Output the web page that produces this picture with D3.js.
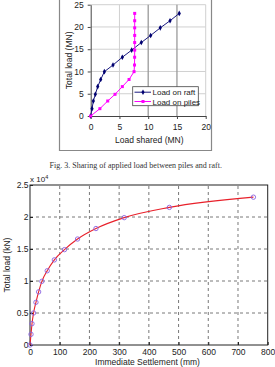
<!DOCTYPE html>
<html><head><meta charset="utf-8">
<script src="https://cdn.jsdelivr.net/npm/d3@7"></script>
<style>body{margin:0;background:#fff}svg{display:block}</style>
</head><body>
<script>
// ---- Data: top chart (MN) ----
const totalLoadMN = [0, 1.65, 3.37, 4.87, 6.6, 8.2, 9.96, 11.45, 13.2, 14.8, 16.5, 18.1, 19.8, 21.4, 23.05];
const loadOnRaft  = [0, 0.23, 0.46, 0.81, 1.22, 1.74, 2.38, 3.88, 5.5, 7.13, 8.8, 10.43, 12.1, 13.8, 15.4];
const loadOnPiles = [0, 1.6, 2.96, 4.23, 5.5, 6.67, 7.54, 7.62, 7.64, 7.65, 7.65, 7.65, 7.65, 7.65, 7.65];
const topXTicks = [0, 5, 10, 15, 20];
const topYTicks = [0, 5, 10, 15, 20, 25];
const seriesNames = ["Load on raft", "Load on piles"];
const caption = "Fig. 3.  Sharing of applied load between piles and raft.";
// ---- Data: bottom chart (x10^4 kN vs mm) ----
const settlement = [0, 3.4, 6.7, 12, 20, 29, 40, 58, 82, 116, 160, 222, 317, 469, 752];
const totalLoadKN = [0, 0.167, 0.333, 0.5, 0.667, 0.83, 0.995, 1.16, 1.33, 1.49, 1.656, 1.82, 1.99, 2.15, 2.31];
const botXTicks = [0, 100, 200, 300, 400, 500, 600, 700, 800];
const botYTicks = [0, 0.5, 1, 1.5, 2, 2.5];

const W = 275, H = 367;
const svg = d3.select("body").append("svg").attr("width", W).attr("height", H);
const sans = "Liberation Sans, Arial, sans-serif";

// ===== Top chart =====
svg.append("path").attr("d", "M59.5,-2 V150.5 H211.5 V-2").attr("fill", "none")
  .attr("stroke", "#888").attr("stroke-width", 1.2);

const tx = d3.scaleLinear().domain([0, 20]).range([90.7, 205.7]);
const ty = d3.scaleLinear().domain([0, 25]).range([116, 4.7]);
const gt = svg.append("g");
gt.selectAll(".hg").data(topYTicks.filter(d => d > 0)).join("line")
  .attr("x1", tx(0)).attr("x2", tx(20)).attr("y1", d => ty(d)).attr("y2", d => ty(d))
  .attr("stroke", "#d0d0d0").attr("stroke-width", 1);
gt.selectAll(".vg").data(topXTicks.filter(d => d > 0)).join("line")
  .attr("x1", d => tx(d)).attr("x2", d => tx(d)).attr("y1", ty(0)).attr("y2", ty(25))
  .attr("stroke", d => (d === 10 || d === 15) ? "#9a9a9a" : "#d0d0d0")
  .attr("stroke-width", d => (d === 10 || d === 15) ? 1.3 : 1);
const txAxis = d3.axisBottom(tx).tickValues(topXTicks).tickSize(3).tickSizeOuter(0);
const tyAxis = d3.axisLeft(ty).tickValues(topYTicks).tickSize(3).tickSizeOuter(0);
const gxa = gt.append("g").attr("transform", `translate(0,${ty(0)})`).call(txAxis);
const gya = gt.append("g").attr("transform", `translate(${tx(0)},0)`).call(tyAxis);
[gxa, gya].forEach(g => {
  g.select(".domain").attr("stroke", "#444");
  g.selectAll(".tick line").attr("stroke", "#444");
  g.selectAll("text").attr("font-family", sans).attr("font-size", 8.5).attr("fill", "#222");
});
gxa.selectAll("text").attr("dy", "0.95em");
gya.selectAll("text").attr("dx", "-1");
gt.append("text").attr("x", 149.3).attr("y", 143).attr("text-anchor", "middle")
  .attr("font-family", sans).attr("font-size", 8.5).attr("fill", "#222").text("Load shared (MN)");
gt.append("text").attr("transform", `translate(72,${(ty(0) + ty(25)) / 2}) rotate(-90)`)
  .attr("text-anchor", "middle").attr("font-family", sans).attr("font-size", 8.5).attr("fill", "#222")
  .text("Total load (MN)");

const raft = loadOnRaft.map((v, i) => [v, totalLoadMN[i]]);
const piles = loadOnPiles.map((v, i) => [v, totalLoadMN[i]]);
const tline = d3.line().x(d => tx(d[0])).y(d => ty(d[1]));
gt.append("path").attr("d", tline(raft)).attr("fill", "none").attr("stroke", "#1a1a80").attr("stroke-width", 1);
gt.append("path").attr("d", tline(piles)).attr("fill", "none").attr("stroke", "#ff00ff").attr("stroke-width", 1);
const diamond = d3.symbol().type(d3.symbolDiamond).size(9);
gt.selectAll(".rm").data(raft).join("path").attr("d", diamond)
  .attr("transform", d => `translate(${tx(d[0])},${ty(d[1])})`).attr("fill", "#000070");
gt.selectAll(".pm").data(piles).join("rect")
  .attr("x", d => tx(d[0]) - 1.5).attr("y", d => ty(d[1]) - 1.5).attr("width", 3).attr("height", 3)
  .attr("fill", "#ff00ff");
const lg = gt.append("g");
lg.append("rect").attr("x", 132.7).attr("y", 86.7).attr("width", 65.6).attr("height", 19)
  .attr("fill", "#fff").attr("stroke", "#444").attr("stroke-width", 0.8);
const legY = [92.2, 101.5];
const legColors = ["#1a1a80", "#ff00ff"];
seriesNames.forEach((name, i) => {
  lg.append("line").attr("x1", 134.5).attr("x2", 151).attr("y1", legY[i]).attr("y2", legY[i])
    .attr("stroke", legColors[i]).attr("stroke-width", 1);
  if (i === 0) lg.append("path").attr("d", diamond).attr("transform", `translate(143,${legY[i]})`).attr("fill", "#000070");
  else lg.append("rect").attr("x", 141.5).attr("y", legY[i] - 1.5).attr("width", 3).attr("height", 3).attr("fill", "#ff00ff");
  lg.append("text").attr("x", 152.5).attr("y", legY[i] + 3).attr("font-family", sans)
    .attr("font-size", 8).attr("fill", "#222").text(name);
});

svg.append("text").attr("x", 49.5).attr("y", 168.3).attr("font-family", "Liberation Serif, Times New Roman, serif")
  .attr("font-size", 7.3).attr("fill", "#333").attr("textLength", 172.5).attr("lengthAdjust", "spacingAndGlyphs")
  .text(caption);

// ===== Bottom chart =====
const bx = d3.scaleLinear().domain([0, 800]).range([30, 267.7]);
const by = d3.scaleLinear().domain([0, 2.5]).range([345, 185]);
const gb = svg.append("g");
gb.selectAll(".bvg").data(botXTicks.filter(d => d > 0 && d < 800)).join("line")
  .attr("x1", d => bx(d)).attr("x2", d => bx(d)).attr("y1", by(0)).attr("y2", by(2.5))
  .attr("stroke", "#555").attr("stroke-width", 0.8).attr("stroke-dasharray", "3,3");
gb.selectAll(".bhg").data(botYTicks.filter(d => d > 0 && d < 2.5)).join("line")
  .attr("x1", bx(0)).attr("x2", bx(800)).attr("y1", d => by(d)).attr("y2", d => by(d))
  .attr("stroke", "#555").attr("stroke-width", 0.8).attr("stroke-dasharray", "3,3");
gb.append("rect").attr("x", bx(0)).attr("y", by(2.5)).attr("width", bx(800) - bx(0)).attr("height", by(0) - by(2.5))
  .attr("fill", "none").attr("stroke", "#222").attr("stroke-width", 1);
const bxAxis = d3.axisBottom(bx).tickValues(botXTicks).tickSize(-3).tickSizeOuter(0);
const byAxis = d3.axisLeft(by).tickValues(botYTicks).tickSize(-3).tickSizeOuter(0).tickFormat(d3.format("~g"));
const gbx = gb.append("g").attr("transform", `translate(0,${by(0)})`).call(bxAxis);
const gby = gb.append("g").attr("transform", `translate(${bx(0)},0)`).call(byAxis);
[gbx, gby].forEach(g => {
  g.select(".domain").remove();
  g.selectAll(".tick line").attr("stroke", "#222");
  g.selectAll("text").attr("font-family", sans).attr("font-size", 8.5).attr("fill", "#222");
});
gbx.selectAll("text").attr("y", 1.5).attr("dy", "0.95em");
gby.selectAll("text").attr("x", -1.5);
gb.append("text").attr("x", 147.5).attr("y", 365).attr("text-anchor", "middle")
  .attr("font-family", sans).attr("font-size", 8.5).attr("fill", "#222").text("Immediate Settlement (mm)");
gb.append("text").attr("transform", `translate(10,${(by(0) + by(2.5)) / 2}) rotate(-90)`)
  .attr("text-anchor", "middle").attr("font-family", sans).attr("font-size", 8.5).attr("fill", "#222")
  .text("Total load (kN)");
const xl = gb.append("text").attr("x", 30).attr("y", 182).attr("font-family", sans).attr("font-size", 8).attr("fill", "#222");
xl.append("tspan").text("x 10");
xl.append("tspan").attr("dy", -3.5).attr("font-size", 5.5).text("4");

const bpts = settlement.map((v, i) => [v, totalLoadKN[i]]);
gb.append("path").attr("d", d3.line().x(d => bx(d[0])).y(d => by(d[1])).curve(d3.curveMonotoneX)(bpts))
  .attr("fill", "none").attr("stroke", "#e8202a").attr("stroke-width", 1.1);
gb.selectAll(".bc").data(bpts).join("circle").attr("cx", d => bx(d[0])).attr("cy", d => by(d[1]))
  .attr("r", 2.2).attr("fill", "none").attr("stroke", "#8a62e0").attr("stroke-width", 0.9);
</script>
</body></html>
